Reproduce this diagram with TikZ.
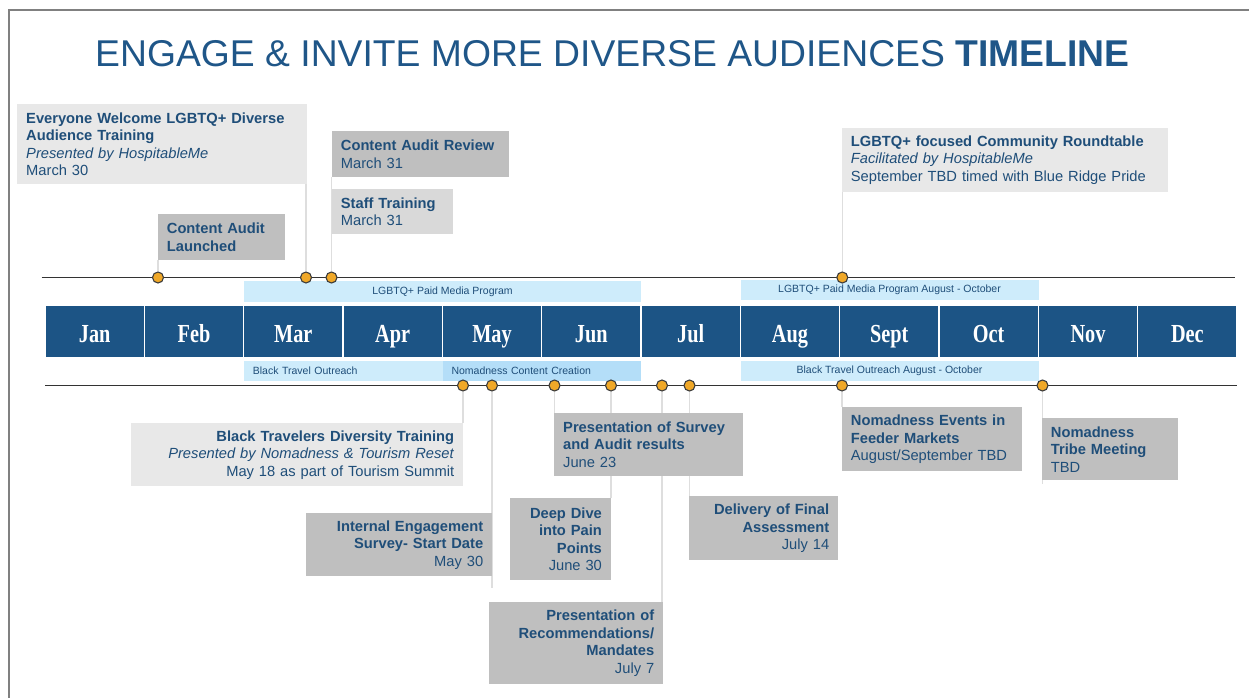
\documentclass[tikz,border=0pt]{standalone}
\usepackage{fontspec}
\setmainfont{Liberation Sans}
\newfontfamily\monthfont[FakeStretch=0.78]{Liberation Serif}
\usetikzlibrary{calc}
\pgfdeclarelayer{bg}
\pgfsetlayers{bg,main}
\definecolor{txt}{RGB}{31,78,121}
\definecolor{titleblue}{RGB}{31,86,136}
\definecolor{barblue}{RGB}{28,84,133}
\definecolor{gA}{RGB}{232,232,232}
\definecolor{gB}{RGB}{217,217,217}
\definecolor{gC}{RGB}{191,191,191}
\definecolor{lblue}{RGB}{206,236,251}
\definecolor{mblue}{RGB}{180,222,248}
\definecolor{dotfill}{RGB}{240,168,40}
\definecolor{dotline}{RGB}{60,60,60}
\definecolor{connc}{RGB}{222,222,222}
\definecolor{framec}{RGB}{128,128,128}
\begin{document}
\begin{tikzpicture}[x=1pt,y=-1pt,
  box/.style={anchor=north west, inner xsep=9pt, inner ysep=0pt, text=txt,
    font=\fontsize{14.7}{17.5}\selectfont},
  band/.style={anchor=north west, inner xsep=9pt, inner ysep=0pt, text=txt,
    font=\fontsize{10.5}{12}\selectfont},
  month/.style={fill=barblue, draw=white, line width=1.5pt, minimum width=99.33pt,
    minimum height=53pt, inner sep=0pt, text=white, text height=21pt, text depth=0pt,
    font=\monthfont\bfseries\fontsize{26}{28}\selectfont},
  dot/.style={circle, fill=dotfill, draw=dotline, line width=1.1pt, minimum size=11pt, inner sep=0pt},
  conn/.style={draw=connc, line width=1.5pt},
  tline/.style={draw=black!80, line width=1.6pt},
  frame/.style={draw=framec, line width=2pt}]
\useasboundingbox (0,0) rectangle (1249,698);

% frame
\coordinate (fa) at (8.5,698);
\coordinate (fb) at (8.5,10.5);
\coordinate (fc) at (1249,10.5);
\draw[frame] (fa) -- (fb) -- (fc);

% title
\node[anchor=base west, inner sep=0pt, text=titleblue, font=\fontsize{37.3}{40}\selectfont]
  (title) at (95,67) {ENGAGE \& INVITE MORE DIVERSE AUDIENCES \textbf{TIMELINE}};

% months
\foreach \m [count=\i from 0] in {Jan,Feb,Mar,Apr,May,Jun,Jul,Aug,Sept,Oct,Nov,Dec}
  \node[month] (m\i) at ({45+(\i+0.5)*99.333},331.5) {\m};

% bands
\node[band, fill=lblue, minimum width=397.3pt, minimum height=21pt] (p1) at (243.7,281) {LGBTQ+ Paid Media Program};
\node[band, fill=lblue, minimum width=298pt, minimum height=20pt] (p2) at (740.3,280) {LGBTQ+ Paid Media Program August - October};
\node[band, fill=lblue, text width=180.6pt, minimum height=20pt, align=left] (o1) at (243.7,361) {Black Travel Outreach};
\node[band, fill=mblue, text width=180.7pt, minimum height=20pt, align=left] (o2) at (442.3,361) {Nomadness Content Creation};
\node[band, fill=lblue, minimum width=298pt, minimum height=20pt] (o3) at (740.3,361) {Black Travel Outreach August - October};

% timeline lines
\coordinate (ta) at (41.7,277.5);
\coordinate (tb) at (1235,277.5);
\coordinate (ba) at (45,385.5);
\coordinate (bb) at (1237,385.5);
\draw[tline] (ta) -- (tb);
\draw[tline] (ba) -- (bb);

% dots
\node[dot] (t1) at (158,277.5) {};
\node[dot] (t2) at (306,277.5) {};
\node[dot] (t3) at (331.5,277.5) {};
\node[dot] (t4) at (842.3,277.5) {};
\node[dot] (d1) at (463,385.5) {};
\node[dot] (d2) at (492,385.5) {};
\node[dot] (d3) at (554.5,385.5) {};
\node[dot] (d4) at (611,385.5) {};
\node[dot] (d5) at (662,385.5) {};
\node[dot] (d6) at (689.5,385.5) {};
\node[dot] (d7) at (842,385.5) {};
\node[dot] (d8) at (1042.5,385.5) {};

% boxes above
\node[box, fill=gA, text width=272pt, minimum height=80pt, align=left] (b1) at (17,104)
  {\textbf{Everyone Welcome LGBTQ+ Diverse}\\\textbf{Audience Training}\\\textit{Presented by HospitableMe}\\March 30};
\node[box, fill=gC, text width=109.3pt, minimum height=46pt, align=left] (b2) at (157.7,214)
  {\textbf{Content Audit}\\\textbf{Launched}};
\node[box, fill=gC, text width=159.5pt, minimum height=45.7pt, align=left] (b3) at (331.7,131)
  {\textbf{Content Audit Review}\\March 31};
\node[box, fill=gB, text width=103.3pt, minimum height=45pt, align=left] (b4) at (331.7,189)
  {\textbf{Staff Training}\\March 31};
\node[box, fill=gA, text width=308pt, minimum height=63.7pt, align=left] (b5) at (841.7,128)
  {\textbf{LGBTQ+ focused Community Roundtable}\\\textit{Facilitated by HospitableMe}\\September TBD timed with Blue Ridge Pride};

% boxes below
\node[box, fill=gA, text width=314pt, minimum height=63pt, align=right] (b6) at (131,423)
  {\textbf{Black Travelers Diversity Training}\\\textit{Presented by Nomadness \& Tourism Reset}\\May 18 as part of Tourism Summit};
\node[box, fill=gC, text width=168.3pt, minimum height=63pt, align=right] (b7) at (305.7,513)
  {\textbf{Internal Engagement}\\\textbf{Survey- Start Date}\\May 30};
\node[box, fill=gC, text width=171pt, minimum height=63pt, align=left] (b8) at (554,413)
  {\textbf{Presentation of Survey}\\\textbf{and Audit results}\\June 23};
\node[box, fill=gC, text width=82.7pt, minimum height=82pt, align=right] (b9) at (510,498)
  {\textbf{Deep Dive}\\\textbf{into Pain}\\\textbf{Points}\\June 30};
\node[box, fill=gC, text width=156pt, minimum height=82pt, align=right] (b10) at (489,602)
  {\textbf{Presentation of}\\\textbf{Recommendations/}\\\textbf{Mandates}\\July 7};
\node[box, fill=gC, text width=131pt, minimum height=64pt, align=right] (b11) at (689,496)
  {\textbf{Delivery of Final}\\\textbf{Assessment}\\July 14};
\node[box, fill=gC, text width=162pt, minimum height=64pt, align=left] (b12) at (841.7,407)
  {\textbf{Nomadness Events in}\\\textbf{Feeder Markets}\\August/September TBD};
\node[box, fill=gC, text width=118.3pt, minimum height=62pt, align=left] (b13) at (1041.7,418)
  {\textbf{Nomadness}\\\textbf{Tribe Meeting}\\TBD};

% connectors
\begin{pgfonlayer}{bg}
\draw[conn] (t1) -- (t1 |- b2.south);
\draw[conn] (t2) -- (t2 |- b1.south);
\draw[conn] (t3) -- (t3 |- b3.south);
\draw[conn] (t4) -- (t4 |- b5.south);
\draw[conn] (d1) -- (d1 |- b6.north);
\draw[conn] (d2) -- ($(d2 |- b7.south)+(0,12)$);
\draw[conn] (d3) -- (d3 |- b8.north);
\draw[conn] (d4) -- (d4 |- b9.north);
\draw[conn] (d5) -- (d5 |- b10.north);
\draw[conn] (d6) -- (d6 |- b11.north);
\draw[conn] (d7) -- (d7 |- b12.north);
\draw[conn] (d8) -- ($(d8 |- b13.south)+(0,4)$);
\end{pgfonlayer}
\end{tikzpicture}
\end{document}
